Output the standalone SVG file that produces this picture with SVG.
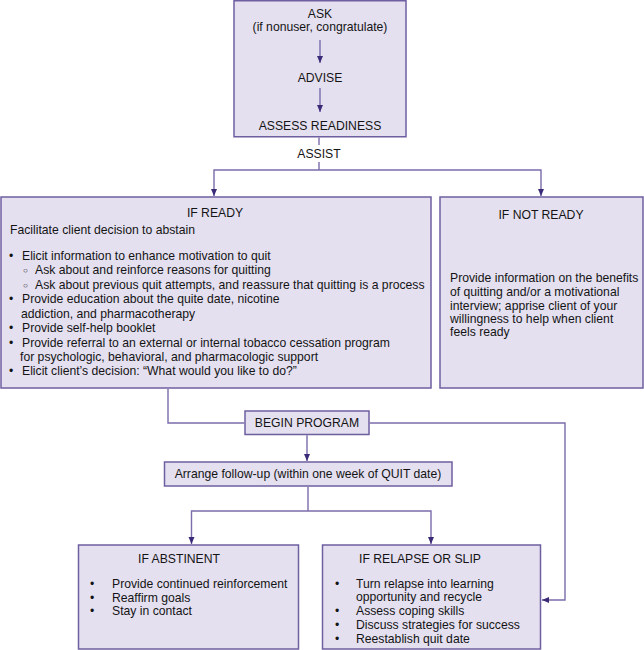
<svg xmlns="http://www.w3.org/2000/svg" width="644" height="650" viewBox="0 0 644 650">
<defs>
<marker id="ah" markerWidth="8" markerHeight="8" refX="7" refY="4" orient="auto" markerUnits="userSpaceOnUse">
<path d="M0,1 L7,4 L0,7 Z" fill="#3b2a78"/>
</marker>
<style>
.box{fill:#e4e0f0;stroke:#6e5fa0;stroke-width:1.5}
.ln{fill:none;stroke:#7b6cab;stroke-width:1.4}
.ar{fill:none;stroke:#7b6cab;stroke-width:1.4;marker-end:url(#ah)}
text{font-family:"Liberation Sans",Arial,sans-serif;font-size:12.2px;fill:#141414}
.c{text-anchor:middle}
.s{font-size:8px}
</style>
</defs>
<rect width="644" height="650" fill="#ffffff"/>
<g id="top">
<rect class="box" x="234" y="0.75" width="172" height="136"/>
<text class="c" x="320" y="18">ASK</text>
<text class="c" x="320" y="31">(if nonuser, congratulate)</text>
<text class="c" x="320" y="82">ADVISE</text>
<text class="c" x="320" y="130">ASSESS READINESS</text>
</g>
<g id="assist">
<text class="c" x="319" y="158">ASSIST</text>
</g>
<g id="ifready">
<rect class="box" x="1" y="197" width="430" height="191"/>
<text class="c" x="215" y="217">IF READY</text>
<text x="10" y="234">Facilitate client decision to abstain</text>
<text x="9" y="260">•</text><text x="22" y="260">Elicit information to enhance motivation to quit</text>
<text class="s" x="23" y="273">○</text><text x="35" y="274">Ask about and reinforce reasons for quitting</text>
<text class="s" x="23" y="288">○</text><text x="35" y="289">Ask about previous quit attempts, and reassure that quitting is a process</text>
<text x="9" y="303">•</text><text x="22" y="303">Provide education about the quite date, nicotine</text>
<text x="21" y="318">addiction, and pharmacotherapy</text>
<text x="9" y="332">•</text><text x="22" y="332">Provide self-help booklet</text>
<text x="9" y="347">•</text><text x="22" y="347">Provide referral to an external or internal tobacco cessation program</text>
<text x="20" y="361">for psychologic, behavioral, and pharmacologic support</text>
<text x="9" y="375">•</text><text x="22" y="375">Elicit client’s decision: “What would you like to do?”</text>
</g>
<g id="ifnotready">
<rect class="box" x="440" y="197" width="203" height="191"/>
<text class="c" x="541" y="219">IF NOT READY</text>
<text x="450" y="282">Provide information on the benefits</text>
<text x="450" y="296">of quitting and/or a motivational</text>
<text x="450" y="310">interview; apprise client of your</text>
<text x="450" y="323">willingness to help when client</text>
<text x="450" y="336">feels ready</text>
</g>
<g id="beginprogram">
<rect class="box" x="245" y="411" width="124" height="23.5"/>
<text class="c" x="307" y="427">BEGIN PROGRAM</text>
</g>
<g id="followup">
<rect class="box" x="164.5" y="462" width="287.5" height="24"/>
<text class="c" x="308" y="478">Arrange follow-up (within one week of QUIT date)</text>
</g>
<g id="abstinent">
<rect class="box" x="78.5" y="545" width="220" height="104"/>
<text x="138" y="563">IF ABSTINENT</text>
<text x="90" y="588">•</text><text x="112" y="588">Provide continued reinforcement</text>
<text x="90" y="602">•</text><text x="112" y="602">Reaffirm goals</text>
<text x="90" y="615">•</text><text x="112" y="615">Stay in contact</text>
</g>
<g id="relapse">
<rect class="box" x="322.5" y="545" width="218" height="104"/>
<text x="359" y="563">IF RELAPSE OR SLIP</text>
<text x="335" y="588">•</text><text x="356" y="588">Turn relapse into learning</text>
<text x="356" y="601">opportunity and recycle</text>
<text x="335" y="615">•</text><text x="356" y="615">Assess coping skills</text>
<text x="335" y="629">•</text><text x="356" y="629">Discuss strategies for success</text>
<text x="335" y="643">•</text><text x="356" y="643">Reestablish quit date</text>
</g>
<g id="connectors">
<line class="ar" x1="320" y1="40" x2="320" y2="63"/>
<line class="ar" x1="320" y1="88" x2="320" y2="112"/>
<line class="ln" x1="319" y1="137.5" x2="319" y2="145"/>
<line class="ln" x1="319" y1="162" x2="319" y2="170"/>
<polyline class="ar" points="319,170 214,170 214,196"/>
<polyline class="ar" points="319,170 541,170 541,196"/>
<polyline class="ln" points="168,389 168,423 244.3,423"/>
<polyline class="ar" points="369.7,423 565,423 565,600 542,600"/>
<line class="ar" x1="307" y1="435.2" x2="307" y2="461"/>
<line class="ln" x1="308" y1="486.7" x2="308" y2="511"/>
<polyline class="ar" points="308,511 191.5,511 191.5,544"/>
<polyline class="ar" points="308,511 431,511 431,544"/>
</g>
</svg>
